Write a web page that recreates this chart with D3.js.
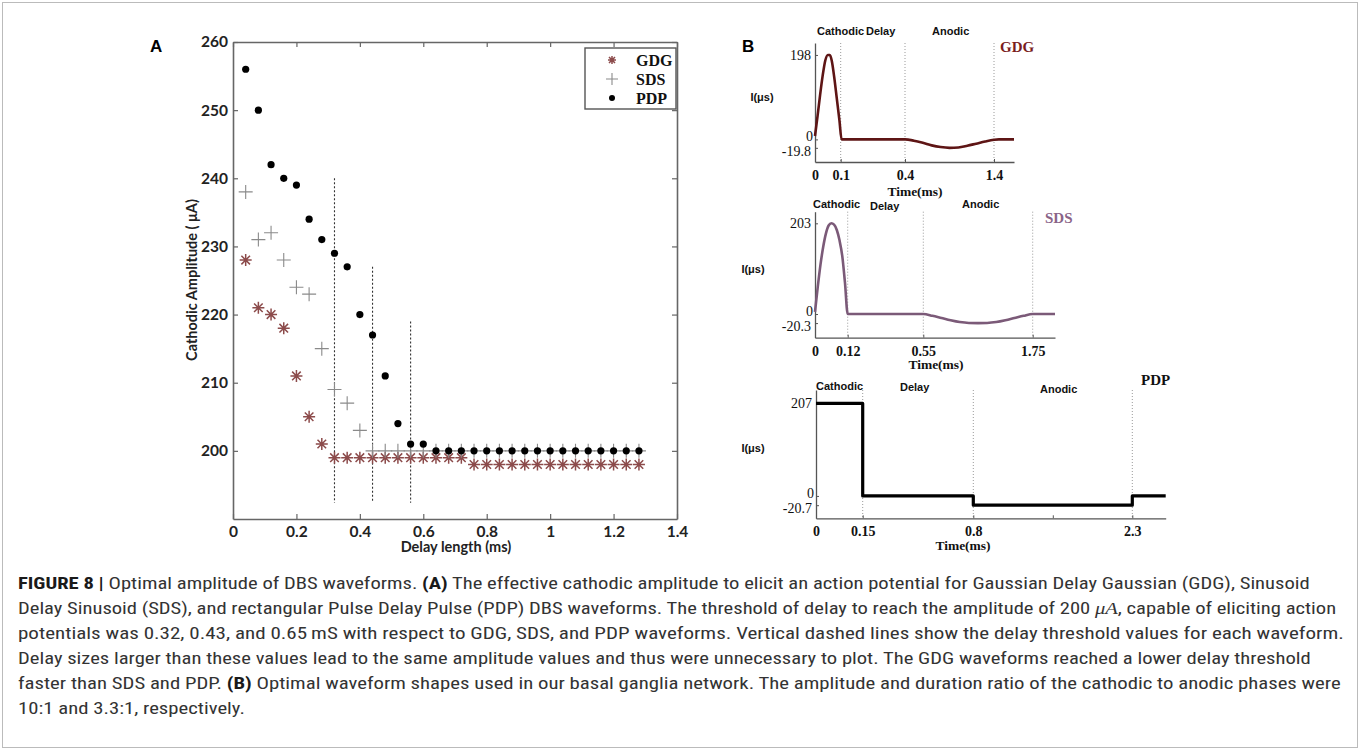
<!DOCTYPE html>
<html><head><meta charset="utf-8">
<script src="https://cdn.jsdelivr.net/npm/d3@7"></script>
<style>body{margin:0;background:#fff} svg{display:block}</style>
</head><body><svg id="c" width="1360" height="750"></svg>
<script>
// ---------- Panel A data ----------
const delays = [0.04,0.08,0.12,0.16,0.2,0.24,0.28,0.32,0.36,0.4,0.44,0.48,0.52,0.56,0.6,0.64,0.68,0.72,0.76,0.8,0.84,0.88,0.92,0.96,1,1.04,1.08,1.12,1.16,1.2,1.24,1.28];
const gdgAmp = [228,221,220,218,211,205,201,199,199,199,199,199,199,199,199,199,199,199,198,198,198,198,198,198,198,198,198,198,198,198,198,198];
const sdsAmp = [238,231,232,228,224,223,215,209,207,203,200,200,200,200,200,200,200,200,200,200,200,200,200,200,200,200,200,200,200,200,200,200];
const pdpAmp = [256,250,242,240,239,234,231,229,227,220,217,211,204,201,201,200,200,200,200,200,200,200,200,200,200,200,200,200,200,200,200,200];
const thresholdDelay = [0.32,0.44,0.56];
const thresholdTop = [240,227,219];
const thresholdBottom = 192.4;
const ampTicks = [200,210,220,230,240,250,260];
const delayTicks = [0,0.2,0.4,0.6,0.8,1,1.2,1.4];
const legendNames = ["GDG","SDS","PDP"];

// ---------- Panel B data ----------
const gdgTime = [0,0.01,0.02,0.03,0.04,0.05,0.058,0.065,0.075,0.085,0.095,0.104,0.4,0.5,0.6,0.7,0.8,0.9,1.0,1.1,1.2,1.3,1.4,1.45,1.6];
const gdgCurrent = [8,55,105,150,185,198,198,185,145,95,45,0,0,-3,-8,-14,-18,-19.8,-19,-15,-10,-5,-1,0,0];
const sdsTime = [0,0.01,0.02,0.03,0.04,0.05,0.06,0.07,0.08,0.09,0.1,0.11,0.12,0.55,0.65,0.75,0.85,0.95,1.05,1.15,1.25,1.35,1.45,1.55,1.65,1.75,2.0];
const sdsCurrent = [5,60,110,150,180,198,203,200,188,165,130,70,0,0,-4,-9,-14,-18,-20,-20.3,-20,-18,-14,-9,-4,0,0];
const pdpTime = [0,0.15,0.15,0.8,0.8,2.3,2.3,2.6];
const pdpCurrent = [207,207,0,0,-20.7,-20.7,0,0];
const gdgTimeTicks = [0,0.1,0.4,1.4];
const sdsTimeTicks = [0,0.12,0.55,1.75];
const pdpTimeTicks = [0,0.15,0.8,2.3];
const gdgCurrentTicks = [198,0,-19.8];
const sdsCurrentTicks = [203,0,-20.3];
const pdpCurrentTicks = [207,0,-20.7];
const phaseNames = ["Cathodic","Delay","Anodic"];

const captionLines = [
  [["FIGURE 8 | ","b"],["Optimal amplitude of DBS waveforms. ",""],["(A)","b"],[" The effective cathodic amplitude to elicit an action potential for Gaussian Delay Gaussian (GDG), Sinusoid",""]],
  [["Delay Sinusoid (SDS), and rectangular Pulse Delay Pulse (PDP) DBS waveforms. The threshold of delay to reach the amplitude of 200 ",""],["μA","i"],[", capable of eliciting action",""]],
  [["potentials was 0.32, 0.43, and 0.65\u2009mS with respect to GDG, SDS, and PDP waveforms. Vertical dashed lines show the delay threshold values for each waveform.",""]],
  [["Delay sizes larger than these values lead to the same amplitude values and thus were unnecessary to plot. The GDG waveforms reached a lower delay threshold",""]],
  [["faster than SDS and PDP. ",""],["(B)","b"],[" Optimal waveform shapes used in our basal ganglia network. The amplitude and duration ratio of the cathodic to anodic phases were",""]],
  [["10:1 and 3.3:1, respectively.",""]]
];
const captionRight = [1311,1337,1345,1313,1342,null];

const svg = d3.select("#c");
svg.append("rect").attr("x",0).attr("y",0).attr("width",1360).attr("height",750).attr("fill","#fff");

// ================= Panel A =================
const xA = d3.scaleLinear([0,1.4],[233,677]);
const yA = d3.scaleLinear([190,260],[519,42]);
const gA = svg.append("g");
const fontA = "Lato, 'Open Sans', sans-serif";

function styleAxis(g, showText){
  g.select(".domain").attr("stroke","#666").attr("stroke-width",1.6);
  g.selectAll(".tick line").attr("stroke","#666").attr("stroke-width",1.2);
  g.selectAll(".tick text").attr("font-family",fontA).attr("font-weight",700).attr("font-size",15.5).attr("fill","#222");
  if(!showText) g.selectAll(".tick text").remove();
}
const axL = gA.append("g").attr("transform","translate(233,0)")
  .call(d3.axisLeft(yA).tickValues(ampTicks).tickSize(-5).tickSizeOuter(0).tickPadding(5).tickFormat(d3.format("d")));
styleAxis(axL,true);
const axR = gA.append("g").attr("transform","translate(677,0)")
  .call(d3.axisRight(yA).tickValues(ampTicks).tickSize(-5).tickSizeOuter(0));
styleAxis(axR,false);
const axB = gA.append("g").attr("transform","translate(0,519)")
  .call(d3.axisBottom(xA).tickValues(delayTicks).tickSize(-5).tickSizeOuter(0).tickPadding(7).tickFormat(d=>d3.format("")(d)));
styleAxis(axB,true);
const axT = gA.append("g").attr("transform","translate(0,42)")
  .call(d3.axisTop(xA).tickValues(delayTicks).tickSize(-5).tickSizeOuter(0));
styleAxis(axT,false);

gA.append("text").attr("x",150).attr("y",52).attr("font-family","'Liberation Sans', Arial, sans-serif").attr("font-weight",700).attr("font-size",17).text("A");
gA.append("text").attr("transform","translate(197,280) rotate(-90)").attr("text-anchor","middle")
  .attr("font-family",fontA).attr("font-weight",700).attr("font-size",14.5).attr("fill","#222").text("Cathodic Amplitude ( μA)");
gA.append("text").attr("x",456).attr("y",552).attr("text-anchor","middle")
  .attr("font-family",fontA).attr("font-weight",700).attr("font-size",14.5).attr("fill","#222").text("Delay length (ms)");

gA.selectAll("line.thr").data(thresholdDelay).join("line").attr("class","thr")
  .attr("x1",d=>xA(d)).attr("x2",d=>xA(d))
  .attr("y1",(d,i)=>yA(thresholdTop[i])).attr("y2",yA(thresholdBottom))
  .attr("stroke","#333").attr("stroke-width",1.1).attr("stroke-dasharray","2,2");

const starPath = "M-6,0H6M0,-6V6M-4.3,-4.3L4.3,4.3M-4.3,4.3L4.3,-4.3";
const plusPath = "M-7,0H7M0,-7V7";
function drawStar(g,x,y){ g.append("path").attr("d",starPath).attr("transform",`translate(${x},${y})`).attr("stroke","#8c4b4b").attr("stroke-width",1.5).attr("fill","none"); }
function drawPlus(g,x,y){ g.append("path").attr("d",plusPath).attr("transform",`translate(${x},${y})`).attr("stroke","#8a8a8a").attr("stroke-width",1.1).attr("fill","none"); }
function drawDot(g,x,y){ g.append("circle").attr("cx",x).attr("cy",y).attr("r",3.6).attr("fill","#000"); }

delays.forEach((d,i)=>drawStar(gA,xA(d),yA(gdgAmp[i])));
delays.forEach((d,i)=>drawPlus(gA,xA(d),yA(sdsAmp[i])));
delays.forEach((d,i)=>drawDot(gA,xA(d),yA(pdpAmp[i])));

const lg = gA.append("g");
lg.append("rect").attr("x",585).attr("y",48).attr("width",91).attr("height",61).attr("fill","#fff").attr("stroke","#555").attr("stroke-width",1.4);
legendNames.forEach((n,i)=>{
  const cy = 60 + i*19;
  if(i===1){ lg.append("path").attr("d","M-6,0H6M0,-6V6").attr("transform",`translate(612,${cy})`).attr("stroke","#8a8a8a").attr("stroke-width",1.1).attr("fill","none"); }
  else if(i===0){ lg.append("path").attr("d","M-4,0H4M0,-4V4M-3,-3L3,3M-3,3L3,-3").attr("transform",`translate(612,${cy})`).attr("stroke","#8c4b4b").attr("stroke-width",1.5).attr("fill","none"); }
  else { lg.append("circle").attr("cx",612).attr("cy",cy).attr("r",3).attr("fill","#000"); }
  lg.append("text").attr("x",636).attr("y",cy+5.5).attr("font-family","'Liberation Serif','Times New Roman',serif").attr("font-weight",700).attr("font-size",16).attr("fill","#111").text(n);
});

// ================= Panel B =================
svg.append("text").attr("x",742).attr("y",52).attr("font-family","'Liberation Sans', Arial, sans-serif").attr("font-weight",700).attr("font-size",17).text("B");

const subplots = [
  {time:gdgTime, cur:gdgCurrent, tTicks:gdgTimeTicks, cTicks:gdgCurrentTicks, name:"GDG",
   x:d3.scaleLinear([0,0.1,0.4,1.4,1.6],[815,840.7,905,994,1014]), y:d3.scaleLinear([-53,226],[162,43]),
   color:"#5e1515", width:2.6, nameColor:"#7a1d1d", nameX:1000, nameY:52,
   phaseX:[817,866,932], phaseY:[35,35,35], ylab:[762,97], xlabY:196, xlabX:915, minor:[]},
  {time:sdsTime, cur:sdsCurrent, tTicks:sdsTimeTicks, cTicks:sdsCurrentTicks, name:"SDS",
   x:d3.scaleLinear([0,0.12,0.55,1.75,2.0],[815,847.7,923.3,1032.7,1055]), y:d3.scaleLinear([-53,229],[337.7,211.7]),
   color:"#7b5a78", width:2.6, nameColor:"#8a6488", nameX:1045, nameY:223,
   phaseX:[813,870,962], phaseY:[208,210,208], ylab:[753,269], xlabY:369, xlabX:936, minor:[]},
  {time:pdpTime, cur:pdpCurrent, tTicks:pdpTimeTicks, cTicks:pdpCurrentTicks, name:"PDP",
   x:d3.scaleLinear([0,0.15,0.8,2.3,2.6],[816,862.7,973.3,1132.3,1165.7]), y:d3.scaleLinear([-50,237],[518.3,390]),
   color:"#000", width:3.2, nameColor:"#111", nameX:1141, nameY:385,
   phaseX:[816,900,1040], phaseY:[390,391,393], ylab:[753,448], xlabY:550, xlabX:963, minor:[1.55]}
];

const serif = "'Liberation Serif','Times New Roman',serif";
const sans = "'Liberation Sans', Arial, sans-serif";
subplots.forEach(sp=>{
  const g = svg.append("g");
  const x0 = sp.x.range()[0];
  const [yb,yt] = [sp.y.range()[0], sp.y.range()[1]];
  g.selectAll("line.ph").data(sp.tTicks.slice(1)).join("line")
    .attr("x1",d=>sp.x(d)).attr("x2",d=>sp.x(d)).attr("y1",yt).attr("y2",yb)
    .attr("stroke","#9a9a9a").attr("stroke-width",1).attr("stroke-dasharray","1,2");
  const la = g.append("g").attr("transform",`translate(${x0},0)`)
    .call(d3.axisLeft(sp.y).tickValues(sp.cTicks).tickSize(-3).tickSizeOuter(0).tickPadding(4).tickFormat(d=>String(d)));
  la.select(".domain").attr("stroke","#555").attr("stroke-width",1.3);
  la.selectAll(".tick line").attr("stroke","#555");
  la.selectAll(".tick text").attr("font-family",serif).attr("font-size",14).attr("fill","#111");
  la.selectAll(".tick text").filter(d=>d===0).attr("dy","0.1em").attr("x",-2);
  la.selectAll(".tick text").filter(d=>d<0).attr("dy","0.55em");
  const ba = g.append("g").attr("transform",`translate(0,${yb})`)
    .call(d3.axisBottom(sp.x).tickValues(sp.tTicks.concat(sp.minor)).tickSize(-3).tickSizeOuter(0).tickPadding(8)
      .tickFormat(d=>sp.minor.includes(d)?"":String(d)));
  ba.select(".domain").attr("stroke","#555").attr("stroke-width",1.3);
  ba.selectAll(".tick line").attr("stroke","#555");
  ba.selectAll(".tick text").attr("font-family",serif).attr("font-weight",700).attr("font-size",14).attr("fill","#111");
  g.append("text").attr("x",sp.xlabX).attr("y",sp.xlabY).attr("text-anchor","middle")
    .attr("font-family",serif).attr("font-weight",700).attr("font-size",13.5).attr("fill","#111").text("Time(ms)");
  g.append("text").attr("x",sp.ylab[0]).attr("y",sp.ylab[1]+4).attr("text-anchor","middle")
    .attr("font-family",sans).attr("font-weight",700).attr("font-size",11).attr("fill","#111").text("I(μs)");
  phaseNames.forEach((p,i)=>{
    g.append("text").attr("x",sp.phaseX[i]).attr("y",sp.phaseY[i])
      .attr("font-family",sans).attr("font-weight",700).attr("font-size",11).attr("fill","#111").text(p);
  });
  g.append("text").attr("x",sp.nameX).attr("y",sp.nameY)
    .attr("font-family",serif).attr("font-weight",700).attr("font-size",15).attr("fill",sp.nameColor).text(sp.name);
  const line = d3.line().x((d,i)=>sp.x(sp.time[i])).y((d,i)=>sp.y(sp.cur[i]))
    .curve(sp.name==="PDP"?d3.curveLinear:d3.curveMonotoneX);
  g.append("path").attr("d",line(sp.cur)).attr("fill","none").attr("stroke",sp.color)
    .attr("stroke-width",sp.width).attr("stroke-linejoin","round");
});

// ================= Caption =================
const capFont = "'Liberation Sans Narrow','Roboto Condensed','Liberation Sans',Arial,sans-serif";
const scales = [];
const texts = captionLines.map((parts,li)=>{
  const t = svg.append("text").attr("font-family",capFont).attr("font-size",16).attr("fill","#333");
  parts.forEach(([s,st])=>{
    const ts = t.append("tspan").text(s);
    if(st==="b") ts.attr("font-weight",700).attr("fill","#1a1a1a");
    if(st==="i") ts.attr("font-style","italic").attr("font-family",serif);
  });
  const w = t.node().getComputedTextLength();
  if(captionRight[li]!==null) scales.push((captionRight[li]-18)/w);
  return [t,w];
});
const meanScale = d3.mean(scales);
texts.forEach(([t,w],li)=>{
  const sx = captionRight[li]!==null ? (captionRight[li]-18)/w : meanScale;
  t.attr("transform",`translate(18,${589+li*25}) scale(${sx},1)`);
});
svg.append("rect").attr("x",2.5).attr("y",2.5).attr("width",1355).attr("height",745)
  .attr("fill","none").attr("stroke","#bbb").attr("stroke-width",1);
</script></body></html>
